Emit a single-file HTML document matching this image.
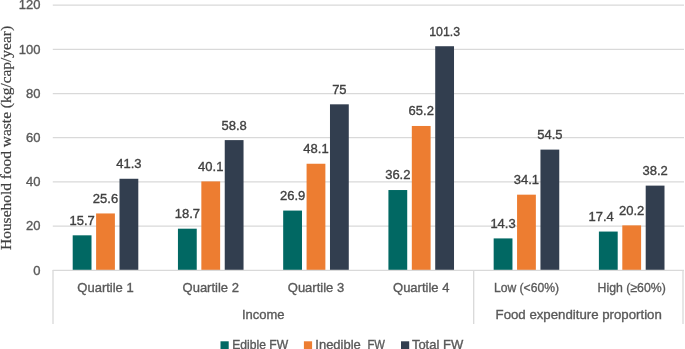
<!DOCTYPE html>
<html><head><meta charset="utf-8"><style>
html,body{margin:0;padding:0;background:#fff;width:685px;height:349px;overflow:hidden}
svg{display:block;will-change:transform}
.t{font-family:"Liberation Sans",sans-serif;font-size:13px;fill:#595959;stroke:#595959;stroke-width:0.35px}
.d{font-family:"Liberation Sans",sans-serif;font-size:13px;fill:#404040;stroke:#404040;stroke-width:0.35px}
.y{font-family:"Liberation Serif",serif;font-size:15.43px;fill:#404040;stroke:#404040;stroke-width:0.2px}
</style></head><body>
<svg width="685" height="349" viewBox="0 0 685 349">
<line x1="52.8" x2="684.0" y1="226.07" y2="226.07" stroke="#D9D9D9" stroke-width="1.3"/>
<line x1="52.8" x2="684.0" y1="181.89" y2="181.89" stroke="#D9D9D9" stroke-width="1.3"/>
<line x1="52.8" x2="684.0" y1="137.71" y2="137.71" stroke="#D9D9D9" stroke-width="1.3"/>
<line x1="52.8" x2="684.0" y1="93.53" y2="93.53" stroke="#D9D9D9" stroke-width="1.3"/>
<line x1="52.8" x2="684.0" y1="49.35" y2="49.35" stroke="#D9D9D9" stroke-width="1.3"/>
<line x1="52.8" x2="684.0" y1="5.17" y2="5.17" stroke="#D9D9D9" stroke-width="1.3"/>
<text x="40.4" y="274.55" text-anchor="end" class="t">0</text>
<text x="40.4" y="230.37" text-anchor="end" class="t">20</text>
<text x="40.4" y="186.19" text-anchor="end" class="t">40</text>
<text x="40.4" y="142.01" text-anchor="end" class="t">60</text>
<text x="40.4" y="97.83" text-anchor="end" class="t">80</text>
<text x="40.4" y="53.65" text-anchor="end" class="t">100</text>
<text x="40.4" y="8.87" text-anchor="end" class="t">120</text>
<rect x="72.70" y="235.32" width="18.8" height="34.68" fill="#016863"/>
<text x="82.10" y="224.72" text-anchor="middle" class="d">15.7</text>
<rect x="96.10" y="213.45" width="18.8" height="56.55" fill="#ED7D31"/>
<text x="105.50" y="202.85" text-anchor="middle" class="d">25.6</text>
<rect x="119.50" y="178.77" width="18.8" height="91.23" fill="#323E4F"/>
<text x="128.90" y="168.17" text-anchor="middle" class="d">41.3</text>
<rect x="177.94" y="228.69" width="18.8" height="41.31" fill="#016863"/>
<text x="187.34" y="218.09" text-anchor="middle" class="d">18.7</text>
<rect x="201.34" y="181.42" width="18.8" height="88.58" fill="#ED7D31"/>
<text x="210.74" y="170.82" text-anchor="middle" class="d">40.1</text>
<rect x="224.74" y="140.11" width="18.8" height="129.89" fill="#323E4F"/>
<text x="234.14" y="129.51" text-anchor="middle" class="d">58.8</text>
<rect x="283.18" y="210.58" width="18.8" height="59.42" fill="#016863"/>
<text x="292.58" y="199.98" text-anchor="middle" class="d">26.9</text>
<rect x="306.58" y="163.75" width="18.8" height="106.25" fill="#ED7D31"/>
<text x="315.98" y="153.15" text-anchor="middle" class="d">48.1</text>
<rect x="329.98" y="104.32" width="18.8" height="165.68" fill="#323E4F"/>
<text x="339.38" y="93.72" text-anchor="middle" class="d">75</text>
<rect x="388.42" y="190.03" width="18.8" height="79.97" fill="#016863"/>
<text x="397.82" y="179.43" text-anchor="middle" class="d">36.2</text>
<rect x="411.82" y="125.97" width="18.8" height="144.03" fill="#ED7D31"/>
<text x="421.22" y="115.37" text-anchor="middle" class="d">65.2</text>
<rect x="435.22" y="46.23" width="18.8" height="223.77" fill="#323E4F"/>
<text x="444.62" y="35.63" text-anchor="middle" class="d" textLength="30.9" lengthAdjust="spacingAndGlyphs">101.3</text>
<rect x="493.66" y="238.41" width="18.8" height="31.59" fill="#016863"/>
<text x="503.06" y="227.81" text-anchor="middle" class="d">14.3</text>
<rect x="517.06" y="194.67" width="18.8" height="75.33" fill="#ED7D31"/>
<text x="526.46" y="184.07" text-anchor="middle" class="d">34.1</text>
<rect x="540.46" y="149.61" width="18.8" height="120.39" fill="#323E4F"/>
<text x="549.86" y="139.01" text-anchor="middle" class="d">54.5</text>
<rect x="598.90" y="231.56" width="18.8" height="38.44" fill="#016863"/>
<text x="601.20" y="220.96" text-anchor="middle" class="d">17.4</text>
<rect x="622.30" y="225.38" width="18.8" height="44.62" fill="#ED7D31"/>
<text x="631.70" y="214.78" text-anchor="middle" class="d">20.2</text>
<rect x="645.70" y="185.62" width="18.8" height="84.38" fill="#323E4F"/>
<text x="655.10" y="175.02" text-anchor="middle" class="d">38.2</text>
<line x1="52.8" x2="684.0" y1="270.4" y2="270.4" stroke="#D9D9D9" stroke-width="1.3"/>
<line x1="53.0" x2="53.0" y1="270.0" y2="324" stroke="#D9D9D9" stroke-width="1.3"/>
<line x1="473.7" x2="473.7" y1="270.0" y2="324" stroke="#D9D9D9" stroke-width="1.3"/>
<line x1="683.0" x2="683.0" y1="270.0" y2="324" stroke="#D9D9D9" stroke-width="1.3"/>
<text x="105.50" y="292.2" text-anchor="middle" class="t">Quartile 1</text>
<text x="210.74" y="292.2" text-anchor="middle" class="t">Quartile 2</text>
<text x="315.98" y="292.2" text-anchor="middle" class="t">Quartile 3</text>
<text x="421.22" y="292.2" text-anchor="middle" class="t">Quartile 4</text>
<text x="526.46" y="292.2" text-anchor="middle" class="t" textLength="65.1" lengthAdjust="spacingAndGlyphs">Low (&lt;60%)</text>
<text x="631.70" y="292.2" text-anchor="middle" class="t" textLength="68.2" lengthAdjust="spacingAndGlyphs">High (≥60%)</text>
<text x="263.3" y="318.9" text-anchor="middle" class="t">Income</text>
<text x="578.7" y="318.9" text-anchor="middle" class="t" textLength="166.3" lengthAdjust="spacingAndGlyphs">Food expenditure proportion</text>
<rect x="220.5" y="341.3" width="8.2" height="8.2" fill="#016863"/>
<text x="232.2" y="349.3" class="t" textLength="55.9" lengthAdjust="spacingAndGlyphs">Edible FW</text>
<rect x="303.9" y="341.3" width="8.2" height="8.2" fill="#ED7D31"/>
<text x="315.3" y="349.3" class="t">Inedible</text>
<text x="367.4" y="349.3" class="t" textLength="17.5" lengthAdjust="spacingAndGlyphs">FW</text>
<rect x="401.0" y="341.3" width="8.2" height="8.2" fill="#323E4F"/>
<text x="411.9" y="349.3" class="t">Total FW</text>
<text transform="translate(11.2,137.95) rotate(-90)" text-anchor="middle" class="y">Household food waste (kg/cap/year)</text>
</svg>
</body></html>
